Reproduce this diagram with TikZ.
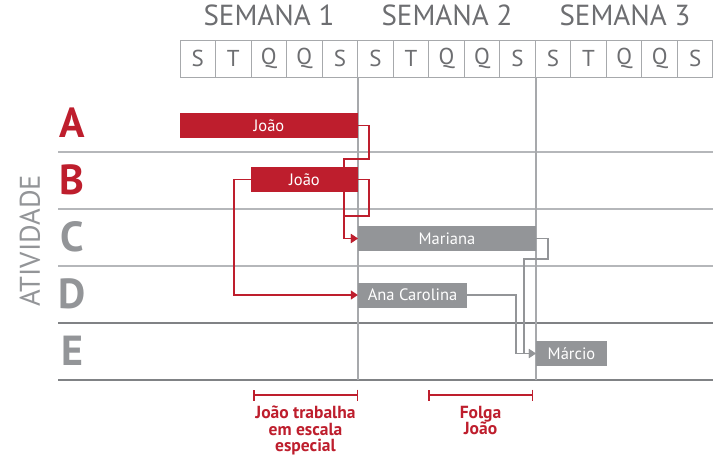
\documentclass[tikz,border=0pt]{standalone}
\usepackage{fontspec}
\setmainfont{PT Sans}
\usetikzlibrary{arrows.meta}
\definecolor{myred}{HTML}{BE1E2D}
\definecolor{mygray}{HTML}{939598}
\definecolor{txtgray}{HTML}{6D6E71}
\definecolor{linelight}{HTML}{B5B7BA}
\definecolor{linedark}{HTML}{808285}
\definecolor{cellgray}{HTML}{A7A9AC}
\begin{document}
\begin{tikzpicture}[x=1pt,y=-1pt,
  daycell/.style={draw=cellgray, line width=1pt, minimum width=35.53pt, minimum height=37pt, inner sep=0pt, text=txtgray, font=\fontsize{23}{25}\selectfont},
  weekhead/.style={text=txtgray, font=\fontsize{29}{31}\selectfont, inner sep=0pt},
  rowletter/.style={font=\bfseries\fontsize{42}{44}\selectfont, inner sep=0pt, anchor=base},
  redbar/.style={fill=myred, text=white, minimum height=25pt, inner sep=0pt, font=\fontsize{16.5}{17}\selectfont},
  graybar/.style={fill=mygray, text=white, minimum height=25pt, inner sep=0pt, font=\fontsize{16.5}{17}\selectfont},
  redlink/.style={draw=myred, line width=1.5pt, -{Triangle[length=7pt,width=9pt]}},
  graylink/.style={draw=mygray, line width=1.5pt, -{Triangle[length=7pt,width=9pt]}},
  note/.style={text=myred, font=\bfseries\fontsize{17.5}{16.5}\selectfont, align=center, inner sep=0pt, anchor=north},
  bracket/.style={draw=myred, line width=1.5pt, {Bar[width=11pt,line width=1.5pt]}-{Bar[width=11pt,line width=1.5pt]}}
]
\useasboundingbox (0,0) rectangle (727,461);
\fill[white] (0,0) rectangle (727,461);

% week headers
\node[weekhead] (w1) at (269,15) {SEMANA 1};
\node[weekhead] (w2) at (447,15) {SEMANA 2};
\node[weekhead] (w3) at (625,15) {SEMANA 3};

% day cells
\foreach \i/\l in {0/S,1/T,2/Q,3/Q,4/S,5/S,6/T,7/Q,8/Q,9/S,10/S,11/T,12/Q,13/Q,14/S}{
  \node[daycell] (d\i) at ({180+35.53*\i+17.765},58.5) {\l};
}

% row lines
\draw[linelight, line width=1.3pt] (58,152) -- (713,152);
\draw[linelight, line width=1.3pt] (58,209) -- (713,209);
\draw[linelight, line width=1.3pt] (58,266) -- (713,266);
\draw[linedark, line width=1.3pt] (58,323) -- (713,323);
\draw[linedark, line width=1.3pt] (58,380) -- (713,380);

% week vertical lines
\draw[cellgray, line width=1.3pt] (358,77) -- (358,380);
\draw[cellgray, line width=1.3pt] (536,77) -- (536,380);

% row letters
\node[rowletter, text=myred] (la) at (72,137) {A};
\node[rowletter, text=myred] (lb) at (72,194) {B};
\node[rowletter, text=mygray] (lc) at (72,251) {C};
\node[rowletter, text=mygray] (ld) at (72,308) {D};
\node[rowletter, text=mygray] (le) at (72,365) {E};

\node[text=mygray, rotate=90, font=\fontsize{28.5}{30}\selectfont, inner sep=0pt] (ativ) at (30,241) {ATIVIDADE};

% bars
\node[redbar, minimum width=178pt] (A) at (269,125.5) {João};
\node[redbar, minimum width=107pt] (B) at (304.5,179.5) {João};
\node[graybar, minimum width=178pt] (C) at (447,238.5) {Mariana};
\node[graybar, minimum width=109pt] (D) at (412.5,295) {Ana Carolina};
\node[graybar, minimum width=71pt] (E) at (571.5,353.5) {Márcio};

% connectors
\draw[redlink] (A.east) -- (369,125.5) -- (369,159) -- (344,159) |- (C.west);
\draw[redlink] (B.east) -- (369,179.5) -- (369,216) -- (344,216) |- (C.west);
\draw[redlink] (B.west) -- (234,179.5) |- (D.west);
\draw[graylink] (C.east) -- (548,238.5) -- (548,259) -- (524,259) |- (E.west);
\draw[graylink] (D.east) -- (516,295) |- (E.west);

% brackets and notes
\draw[bracket] (253,395) -- (358,395);
\draw[bracket] (428,395) -- (533,395);
\node[note] (n1) at (305.5,406) {João trabalha\\em escala\\especial};
\node[note] (n2) at (480.5,406) {Folga\\João};
\end{tikzpicture}
\end{document}
